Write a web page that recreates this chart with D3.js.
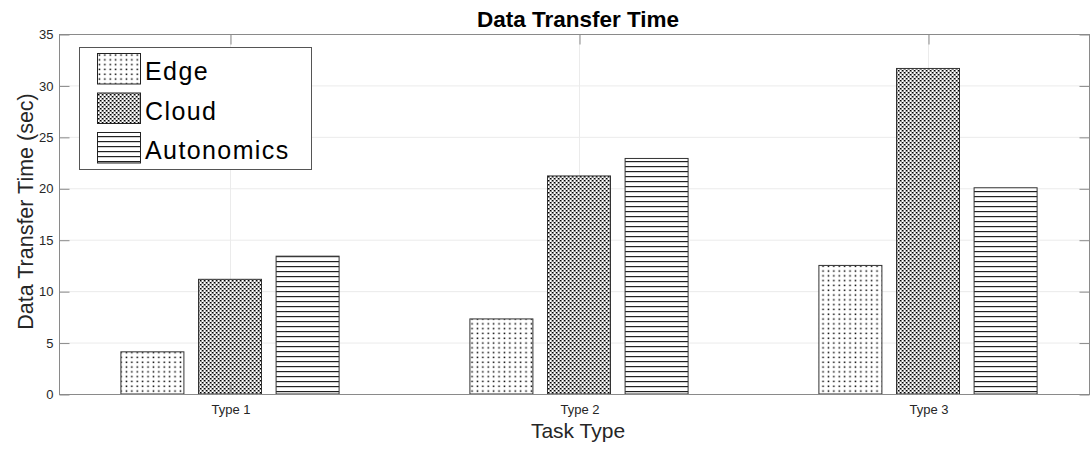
<!DOCTYPE html>
<html><head><meta charset="utf-8">
<script src="https://cdn.jsdelivr.net/npm/d3@7"></script>
<style>body{margin:0;background:#fff}svg{display:block}text{font-family:"Liberation Sans",Arial,sans-serif}</style>
</head><body>
<svg id="c" width="1091" height="451"></svg>
<script>
const categories = ["Type 1", "Type 2", "Type 3"];
const seriesNames = ["Edge", "Cloud", "Autonomics"];
const edgeValues = [4.1, 7.3, 12.5];
const cloudValues = [11.15, 21.2, 31.65];
const autonomicsValues = [13.4, 22.9, 20.05];
const yTicks = [0, 5, 10, 15, 20, 25, 30, 35];

const series = [edgeValues, cloudValues, autonomicsValues];
const svg = d3.select("#c");
const L = 59, R = 1090, T = 34, B = 394;
const x = d3.scaleLinear().domain([1, 3]).range([230, 928]);
const y = d3.scaleLinear().domain([0, 35]).range([B, T]);
const barW = 63, offset = 77.6;
const axisCol = "#8a8a8a", textCol = "#262626";

const defs = svg.append("defs");
// Edge: dots
const p1 = defs.append("pattern").attr("id","pEdge").attr("patternUnits","userSpaceOnUse").attr("width",5.4).attr("height",4.8);
p1.append("rect").attr("width",5.4).attr("height",4.8).attr("fill","#fff");
p1.append("rect").attr("x",1.5).attr("y",1.5).attr("width",1.5).attr("height",1.5).attr("fill","#000");
// Cloud: crosshatch checker
const p2 = defs.append("pattern").attr("id","pCloud").attr("patternUnits","userSpaceOnUse").attr("width",4).attr("height",4);
p2.append("rect").attr("width",4).attr("height",4).attr("fill","#fff");
p2.append("rect").attr("x",0).attr("y",0).attr("width",1.5).attr("height",1.5).attr("fill","#000");
p2.append("rect").attr("x",2).attr("y",2).attr("width",1.5).attr("height",1.5).attr("fill","#000");
p2.append("rect").attr("x",1.5).attr("y",0).attr("width",0.5).attr("height",4).attr("fill","#777");
p2.append("rect").attr("x",3.5).attr("y",0).attr("width",0.5).attr("height",4).attr("fill","#777");
// Autonomics: horizontal lines
const p3 = defs.append("pattern").attr("id","pAuto").attr("patternUnits","userSpaceOnUse").attr("width",8).attr("height",5);
p3.append("rect").attr("width",8).attr("height",5).attr("fill","#fff");
p3.append("rect").attr("x",0).attr("y",1).attr("width",8).attr("height",1.2).attr("fill","#222");
const fills = ["url(#pEdge)","url(#pCloud)","url(#pAuto)"];

// grid
const g = svg.append("g");
g.selectAll(".gy").data(yTicks.slice(1,-1)).join("line")
  .attr("x1",L).attr("x2",R).attr("y1",d=>y(d)+0.5).attr("y2",d=>y(d)+0.5)
  .attr("stroke","#ebebeb").attr("stroke-width",1);
g.selectAll(".gx").data([1,2,3]).join("line")
  .attr("x1",d=>x(d)+0.5).attr("x2",d=>x(d)+0.5).attr("y1",T).attr("y2",B)
  .attr("stroke","#ebebeb").attr("stroke-width",1);

// bars
series.forEach((vals, si) => {
  svg.append("g").selectAll("rect").data(vals).join("rect")
    .attr("x",(d,i)=>x(i+1)+(si-1)*offset-barW/2)
    .attr("y",d=>y(d))
    .attr("width",barW)
    .attr("height",d=>B-y(d))
    .attr("fill",fills[si])
    .attr("stroke","#333").attr("stroke-width",1);
});

// axes box
const ax = svg.append("g").attr("stroke",axisCol).attr("stroke-width",1).attr("fill","none");
ax.append("rect").attr("x",L+0.5).attr("y",T+0.5).attr("width",R-L-1).attr("height",B-T);
// y ticks (left & right, inward)
const yAxisL = d3.axisLeft(y).tickValues(yTicks).tickSize(-10).tickPadding(6).tickFormat(d3.format("d"));
const gyl = svg.append("g").attr("transform",`translate(${L+0.5},0.5)`).call(yAxisL);
gyl.select(".domain").remove();
gyl.selectAll("line").attr("stroke",axisCol);
gyl.selectAll("text").attr("fill",textCol).attr("font-size",13).attr("font-family","Liberation Sans, Arial, sans-serif");
const yAxisR = d3.axisRight(y).tickValues(yTicks).tickSize(-10).tickFormat("");
const gyr = svg.append("g").attr("transform",`translate(${R-0.5},0.5)`).call(yAxisR);
gyr.select(".domain").remove();
gyr.selectAll("line").attr("stroke",axisCol);
// x ticks bottom & top
const xAxisB = d3.axisBottom(x).tickValues([1,2,3]).tickSize(-10).tickPadding(10).tickFormat((d,i)=>categories[i]);
const gxb = svg.append("g").attr("transform",`translate(0.5,${B+0.5})`).call(xAxisB);
gxb.select(".domain").remove();
gxb.selectAll("line").attr("stroke",axisCol);
gxb.selectAll("text").attr("fill",textCol).attr("font-size",13).attr("font-family","Liberation Sans, Arial, sans-serif");
const xAxisT = d3.axisTop(x).tickValues([1,2,3]).tickSize(-10).tickFormat("");
const gxt = svg.append("g").attr("transform",`translate(0.5,${T+0.5})`).call(xAxisT);
gxt.select(".domain").remove();
gxt.selectAll("line").attr("stroke",axisCol);

// title & labels
svg.append("text").attr("x",578).attr("y",27).attr("text-anchor","middle")
  .attr("font-size",22.5).attr("font-weight","bold").attr("fill","#000").text("Data Transfer Time");
svg.append("text").attr("x",578).attr("y",438).attr("text-anchor","middle")
  .attr("font-size",21).attr("fill",textCol).text("Task Type");
svg.append("text").attr("transform","translate(33,211.5) rotate(-90)").attr("text-anchor","middle")
  .attr("font-size",21.5).attr("fill",textCol).text("Data Transfer Time (sec)");

// legend
const lg = svg.append("g");
lg.append("rect").attr("x",79.5).attr("y",47.5).attr("width",232).attr("height",122)
  .attr("fill","#fff").attr("stroke","#555").attr("stroke-width",1);
seriesNames.forEach((n,i)=>{
  const yy = 53.5 + i*39.5;
  lg.append("rect").attr("x",97.5).attr("y",yy).attr("width",43).attr("height",30.5)
    .attr("fill",fills[i]).attr("stroke","#222").attr("stroke-width",1);
  lg.append("text").attr("x",145).attr("y",yy+26.5).attr("font-size",25).attr("letter-spacing",1.4)
    .attr("fill","#000").text(n);
});
</script>
</body></html>
